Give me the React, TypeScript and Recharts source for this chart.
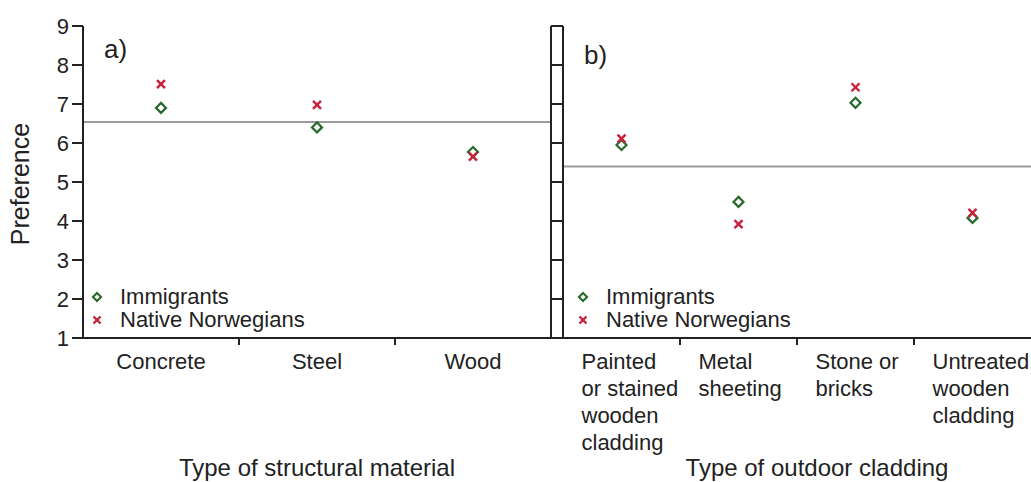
import React from 'react'
import {
  ComposedChart,
  Scatter,
  XAxis,
  YAxis,
  ReferenceLine,
  Legend,
} from 'recharts'

const yTicks = [1, 2, 3, 4, 5, 6, 7, 8, 9]

const materials = ['Concrete', 'Steel', 'Wood']
const materialImmigrants = [6.9, 6.4, 5.77]
const materialNative = [7.51, 6.98, 5.65]
const materialMean = 6.54

const claddings = [
  'Painted or stained wooden cladding',
  'Metal sheeting',
  'Stone or bricks',
  'Untreated wooden cladding',
]
const claddingLines = [
  ['Painted', 'or stained', 'wooden', 'cladding'],
  ['Metal', 'sheeting'],
  ['Stone or', 'bricks'],
  ['Untreated', 'wooden', 'cladding'],
]
const claddingImmigrants = [5.95, 4.49, 7.03, 4.08]
const claddingNative = [6.11, 3.92, 7.43, 4.21]
const claddingMean = 5.4

const GREEN = '#2b6a2f'
const RED = '#c8223c'
const INK = '#222'
const FONT = 'Liberation Sans, Arial, sans-serif'

const materialData = materials.map((name, i) => ({
  name,
  immigrants: materialImmigrants[i],
  native: materialNative[i],
}))
const claddingData = claddings.map((name, i) => ({
  name,
  immigrants: claddingImmigrants[i],
  native: claddingNative[i],
}))

const Diamond = (props: any) => {
  const { cx, cy, r = 5 } = props
  if (cx == null || cy == null) return null
  return (
    <polygon
      points={`${cx},${cy - r} ${cx + r},${cy} ${cx},${cy + r} ${cx - r},${cy}`}
      fill="#fff"
      stroke={GREEN}
      strokeWidth={2.2}
    />
  )
}

const Cross = (props: any) => {
  const { cx, cy, r = 4 } = props
  if (cx == null || cy == null) return null
  return (
    <g stroke={RED} strokeWidth={2.4}>
      <line x1={cx - r} y1={cy - r} x2={cx + r} y2={cy + r} />
      <line x1={cx - r} y1={cy + r} x2={cx + r} y2={cy - r} />
    </g>
  )
}

const EmptyTick = () => <g />

// category label + a tick mark on the band boundary to the left
const CatTick = (props: any) => {
  const { x, y, payload, index, lines, anchor, shift = 0 } = props
  const off = payload?.offset ?? 0
  const rows: string[] = lines ? lines[index] : [payload.value]
  return (
    <g>
      {index > 0 && (
        <line x1={x - off} y1={y} x2={x - off} y2={y + 7} stroke={INK} strokeWidth={2} />
      )}
      <text x={x + shift} y={y + 31} textAnchor={anchor} fontSize={22} fill={INK} fontFamily={FONT}>
        {rows.map((r, i) => (
          <tspan key={i} x={x + shift} dy={i === 0 ? 0 : 27}>
            {r}
          </tspan>
        ))}
      </text>
    </g>
  )
}

const LegendBox = () => (
  <div style={{ fontFamily: FONT, fontSize: 22, color: INK, lineHeight: '23px' }}>
    <div style={{ display: 'flex', alignItems: 'center' }}>
      <svg width={33} height={23}>
        <Diamond cx={10} cy={12} r={4} />
      </svg>
      <span>Immigrants</span>
    </div>
    <div style={{ display: 'flex', alignItems: 'center' }}>
      <svg width={33} height={23}>
        <Cross cx={10} cy={12} r={3.5} />
      </svg>
      <span>Native Norwegians</span>
    </div>
  </div>
)

const axisTitle = (text: string, dx: number) => (p: any) => {
  const vb = p.viewBox
  return (
    <text
      x={vb.x + vb.width / 2 + dx}
      y={vb.y + 138}
      textAnchor="middle"
      fontSize={24}
      fill={INK}
      fontFamily={FONT}
    >
      {text}
    </text>
  )
}

const yTitle = (p: any) => {
  const vb = p.viewBox
  const cx = 20
  const cy = vb.y + vb.height / 2 + 2
  return (
    <text
      x={cx}
      y={cy}
      transform={`rotate(-90 ${cx} ${cy})`}
      textAnchor="middle"
      dominantBaseline="central"
      fontSize={25}
      fill={INK}
      fontFamily={FONT}
    >
      Preference
    </text>
  )
}

const axisLine = { stroke: INK, strokeWidth: 2 }

export default function App() {
  return (
    <div style={{ position: 'absolute', left: 0, top: 0, width: 1031, height: 482, background: '#fff', fontFamily: FONT }}>
      <div style={{ position: 'absolute', left: 0, top: 0 }}>
        <ComposedChart width={560} height={482} data={materialData} margin={{ top: 26, right: 0, bottom: 0, left: 0 }}>
          <XAxis
            dataKey="name"
            type="category"
            scale="band"
            height={144}
            tickLine={false}
            tickSize={0}
            tickMargin={0}
            axisLine={axisLine}
            tick={<CatTick anchor="middle" />}
            interval={0}
            label={{ content: axisTitle('Type of structural material', 0) }}
          />
          <XAxis xAxisId="t" dataKey="name" orientation="top" height={0} tick={false} tickLine={false} axisLine={axisLine} />
          <YAxis
            width={83}
            domain={[1, 9]}
            ticks={yTicks}
            type="number"
            tickSize={11}
            tickMargin={3}
            axisLine={axisLine}
            tickLine={axisLine}
            tick={{ fontSize: 22, fill: INK, fontFamily: FONT }}
            label={{ content: yTitle }}
          />
          <YAxis yAxisId="r" orientation="right" width={9} domain={[1, 9]} tick={false} tickLine={false} axisLine={axisLine} />
          <ReferenceLine y={materialMean} stroke="#9a9a9a" strokeWidth={2} />
          <Scatter dataKey="immigrants" name="Immigrants" shape={<Diamond />} isAnimationActive={false} />
          <Scatter dataKey="native" name="Native Norwegians" shape={<Cross />} isAnimationActive={false} />
          <Legend
            layout="vertical"
            align="center"
            verticalAlign="middle"
            content={<LegendBox />}
            wrapperStyle={{ left: 87, top: 285, width: 'auto' }}
          />
        </ComposedChart>
      </div>
      <div style={{ position: 'absolute', left: 551, top: 0 }}>
        <ComposedChart width={480} height={482} data={claddingData} margin={{ top: 26, right: 0, bottom: 0, left: 0 }}>
          <XAxis
            dataKey="name"
            type="category"
            scale="band"
            height={144}
            tickLine={false}
            tickSize={0}
            tickMargin={0}
            axisLine={axisLine}
            tick={<CatTick anchor="start" lines={claddingLines} shift={-40} />}
            interval={0}
            label={{ content: axisTitle('Type of outdoor cladding', 20) }}
          />
          <XAxis xAxisId="t" dataKey="name" orientation="top" height={0} tick={false} tickLine={false} axisLine={axisLine} />
          <YAxis
            width={12}
            domain={[1, 9]}
            ticks={yTicks}
            type="number"
            tickSize={12}
            tickMargin={0}
            tick={<EmptyTick />}
            axisLine={axisLine}
            tickLine={axisLine}
          />
          <ReferenceLine y={claddingMean} stroke="#9a9a9a" strokeWidth={2} />
          <Scatter dataKey="immigrants" name="Immigrants" shape={<Diamond />} isAnimationActive={false} />
          <Scatter dataKey="native" name="Native Norwegians" shape={<Cross />} isAnimationActive={false} />
          <Legend
            layout="vertical"
            align="center"
            verticalAlign="middle"
            content={<LegendBox />}
            wrapperStyle={{ left: 22, top: 285, width: 'auto' }}
          />
        </ComposedChart>
      </div>
      <div style={{ position: 'absolute', left: 104, top: 34, fontSize: 26, color: INK, lineHeight: '30px' }}>a)</div>
      <div style={{ position: 'absolute', left: 584, top: 40, fontSize: 26, color: INK, lineHeight: '30px' }}>b)</div>
    </div>
  )
}
